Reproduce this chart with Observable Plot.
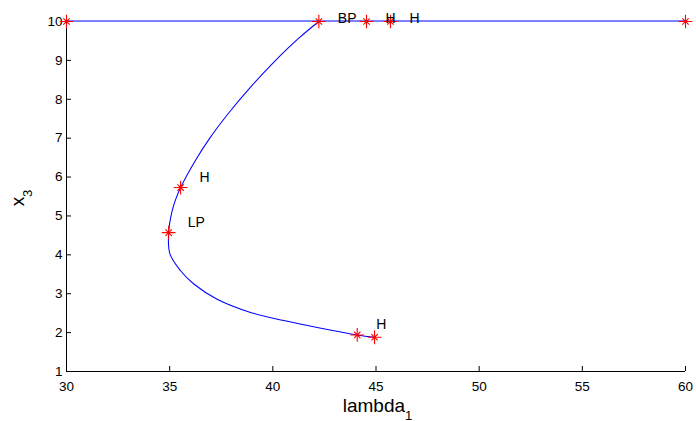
<!DOCTYPE html>
<html><head><meta charset="utf-8">
<script src="https://cdn.jsdelivr.net/npm/d3@7"></script>
<script src="https://cdn.jsdelivr.net/npm/@observablehq/plot@0.6"></script>
<style>body{margin:0;background:#fff}</style>
</head><body><div id="chart"></div>
<script>
// Branch along x3 = 10
const branchX = [30, 42.23, 44.54, 45.70, 60];
const branchY = [10, 10, 10, 10, 10];
// Curved branch from (44.93,1.88) up to BP
const curveX = [44.93, 44.09, 42.15, 40.53, 38.92, 37.30, 36.17, 35.53, 35.01, 34.95, 35.12, 35.30, 35.53, 36.24, 36.97, 37.88, 38.90, 40.04, 41.30, 42.23];
const curveY = [1.88, 1.94, 2.13, 2.31, 2.52, 2.86, 3.25, 3.59, 4.03, 4.57, 5.13, 5.44, 5.73, 6.42, 7.02, 7.66, 8.30, 8.95, 9.59, 10.00];
// Special points (red stars)
const starX = [30, 42.23, 44.54, 45.70, 60, 44.93, 44.09, 34.95, 35.53];
const starY = [10, 10, 10, 10, 10, 1.88, 1.94, 4.57, 5.73];
// Labels attached to special points
const labelText = ["BP", "H", "H", "H", "LP", "H"];
const labelX = [42.23, 44.54, 45.70, 35.53, 34.95, 44.09];
const labelY = [10, 10, 10, 5.73, 4.57, 1.94];
// Axis ticks
const xTicks = [30, 35, 40, 45, 50, 55, 60];
const yTicks = [1, 2, 3, 4, 5, 6, 7, 8, 9, 10];

const branch = branchX.map((x, i) => ({x, y: branchY[i]}));
const curve = curveX.map((x, i) => ({x, y: curveY[i]}));
const stars = starX.map((x, i) => ({x, y: starY[i]}));
const labels = labelText.map((t, i) => ({t, x: labelX[i], y: labelY[i]}));

const font = "'Liberation Sans', Arial, sans-serif";
const chart = Plot.plot({
  width: 696, height: 421,
  marginLeft: 66, marginRight: 11, marginTop: 21, marginBottom: 50,
  style: {fontFamily: font, fontSize: "13.5px", background: "#fff", color: "#000"},
  x: {domain: [30, 60], label: null},
  y: {domain: [1, 10], label: null},
  marks: [
    Plot.axisX(xTicks, {tickSize: -5, tickPadding: 15, label: null, fontSize: 13.5}),
    Plot.axisY(yTicks, {tickSize: -5, tickPadding: 9, label: null, fontSize: 13.5}),
    Plot.ruleX([30], {stroke: "#000"}),
    Plot.ruleY([1], {stroke: "#000"}),
    Plot.line(curve, {x: "x", y: "y", stroke: "#0000ff", strokeWidth: 1.05, curve: "catmull-rom"}),
    Plot.line(branch, {x: "x", y: "y", stroke: "#0000ff", strokeWidth: 1.2, dy: -0.5}),
    Plot.dot(stars, {x: "x", y: "y", symbol: "plus", r: 4.5, stroke: "#ff0000", strokeWidth: 1.1}),
    Plot.dot(stars, {x: "x", y: "y", symbol: "times", r: 3, stroke: "#ff0000", strokeWidth: 1.1}),
    Plot.text(labels, {filter: d => d.y >= 10, x: "x", y: "y", text: "t", textAnchor: "start", dx: 19, dy: -3, fontSize: 14, fill: "#000"}),
    Plot.text(labels, {filter: d => d.y < 10, x: "x", y: "y", text: "t", textAnchor: "start", dx: 19, dy: -10.5, fontSize: 14, fill: "#000"})
  ]
});

const svg = d3.select(chart);
const xr = chart.scale("x").range;
const yr = chart.scale("y").range;
const xl = svg.append("text")
  .attr("x", (xr[0] + xr[1]) / 2 + 2).attr("y", 411.5)
  .attr("text-anchor", "middle").attr("font-family", font).attr("font-size", 19).attr("fill", "#000");
xl.append("tspan").text("lambda");
xl.append("tspan").attr("dy", 8).attr("font-size", 13).text("1");
const yl = svg.append("text")
  .attr("transform", `translate(24.3,${(yr[0] + yr[1]) / 2 + 2}) rotate(-90)`)
  .attr("text-anchor", "middle").attr("font-family", font).attr("font-size", 19).attr("fill", "#000");
yl.append("tspan").text("x");
yl.append("tspan").attr("dy", 8).attr("font-size", 13).text("3");

document.getElementById("chart").appendChild(chart);
</script>
</body></html>
